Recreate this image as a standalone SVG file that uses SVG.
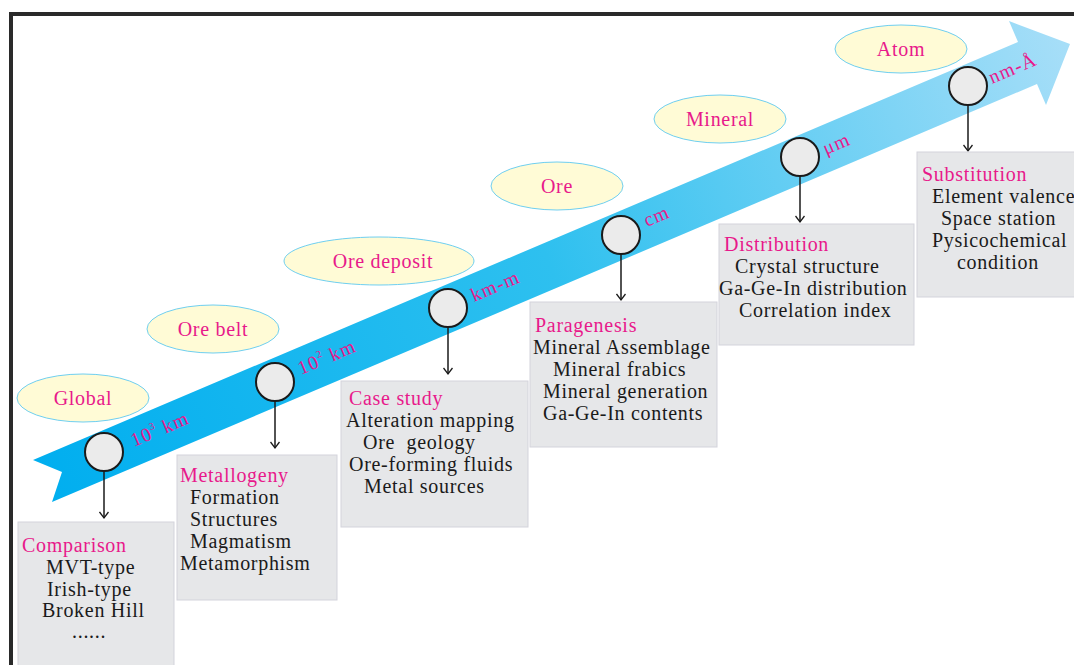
<svg xmlns="http://www.w3.org/2000/svg" width="1074" height="665" viewBox="0 0 1074 665">
<style>
  text { font-family: "Liberation Serif", "Times New Roman", serif; font-size: 20px; letter-spacing: 0.7px; }
  .pk { fill: #e8198b; }
  .bk { fill: #1a1a1a; }
  .sc { fill: #e8198b; font-size: 19.5px; letter-spacing: 1.2px; }
  .sup { font-size: 10px; }
  .ell { fill: #fffbd6; stroke: #6fcff0; stroke-width: 1; }
  .box { fill: #e6e7e9; stroke: #d3d3db; stroke-width: 1; }
  .dot { fill: #ebebeb; stroke: #1a1a1a; stroke-width: 2; }
  .stem { stroke: #1a1a1a; stroke-width: 1.5; fill: none; marker-end: url(#ah); }
  .lbl { text-anchor: middle; }
</style>
<defs>
  <linearGradient id="band" x1="33" y1="480" x2="1070" y2="60" gradientUnits="userSpaceOnUse">
    <stop offset="0" stop-color="#00aeef"/>
    <stop offset="0.5" stop-color="#2ec0ef"/>
    <stop offset="1" stop-color="#a6def8"/>
  </linearGradient>
  <marker id="ah" markerWidth="10" markerHeight="10" refX="8" refY="5" orient="auto" markerUnits="userSpaceOnUse" viewBox="0 0 10 10">
    <polyline points="2,0.5 8,5 2,9.5" fill="none" stroke="#1a1a1a" stroke-width="1.3"/>
  </marker>
</defs>
<rect x="0" y="0" width="1074" height="665" fill="#ffffff"/>
<!-- frame -->
<path d="M11,665 V14 H1074" fill="none" stroke="#2a2a2a" stroke-width="4"/>

<!-- band arrow -->
<g id="scale-arrow">
  <polygon points="33,460 1018,42 1009,21 1070,44 1046,105 1037,84 52,502 62,472" fill="url(#band)"/>
</g>

<!-- level ellipses -->
<g id="level-global"><ellipse class="ell" cx="83" cy="398" rx="66" ry="24"/><text class="pk lbl" x="83" y="405">Global</text></g>
<g id="level-orebelt"><ellipse class="ell" cx="213" cy="329" rx="66" ry="24"/><text class="pk lbl" x="213" y="336">Ore belt</text></g>
<g id="level-oredeposit"><ellipse class="ell" cx="379" cy="261" rx="95" ry="24"/><text class="pk lbl" x="383" y="268">Ore deposit</text></g>
<g id="level-ore"><ellipse class="ell" cx="557" cy="186" rx="66" ry="24"/><text class="pk lbl" x="557" y="193">Ore</text></g>
<g id="level-mineral"><ellipse class="ell" cx="720" cy="119" rx="66" ry="24"/><text class="pk lbl" x="720" y="126">Mineral</text></g>
<g id="level-atom"><ellipse class="ell" cx="901" cy="49" rx="66" ry="24"/><text class="pk lbl" x="901" y="56">Atom</text></g>

<!-- scale labels -->
<g id="scale-labels">
  <text class="sc" transform="rotate(-23 134 447)" x="134" y="447">10<tspan class="sup" dy="-9">3</tspan><tspan dy="9"> km</tspan></text>
  <text class="sc" transform="rotate(-23 301 375)" x="301" y="375">10<tspan class="sup" dy="-9">2</tspan><tspan dy="9"> km</tspan></text>
  <text class="sc" transform="rotate(-23 474 302)" x="474" y="302">km-m</text>
  <text class="sc" transform="rotate(-23 647 227)" x="647" y="227">cm</text>
  <text class="sc" transform="rotate(-23 826 155)" x="826" y="155">μm</text>
  <text class="sc" transform="rotate(-23 992 84)" x="992" y="84">nm-Å</text>
</g>

<!-- connectors -->
<g id="connectors">
  <path class="stem" d="M104,471 V518"/>
  <path class="stem" d="M275,401 V448"/>
  <path class="stem" d="M448,327 V374"/>
  <path class="stem" d="M621,254 V300"/>
  <path class="stem" d="M800,176 V222"/>
  <path class="stem" d="M968,105 V151"/>
</g>

<!-- scale points -->
<g id="point-1"><circle class="dot" cx="104" cy="452" r="19"/></g>
<g id="point-2"><circle class="dot" cx="275" cy="382" r="19"/></g>
<g id="point-3"><circle class="dot" cx="448" cy="308" r="19"/></g>
<g id="point-4"><circle class="dot" cx="621" cy="235" r="19"/></g>
<g id="point-5"><circle class="dot" cx="800" cy="157" r="19"/></g>
<g id="point-6"><circle class="dot" cx="968" cy="86" r="19"/></g>

<!-- boxes -->
<g id="box-comparison">
  <rect class="box" x="18" y="522" width="156" height="150"/>
  <text class="pk" x="22" y="552">Comparison</text>
  <text class="bk" x="46" y="574">MVT-type</text>
  <text class="bk" x="47" y="596">Irish-type</text>
  <text class="bk" x="42" y="617">Broken Hill</text>
  <text class="bk" x="72" y="638">......</text>
</g>
<g id="box-metallogeny">
  <rect class="box" x="177" y="455" width="160" height="145"/>
  <text class="pk" x="180" y="482">Metallogeny</text>
  <text class="bk" x="190" y="504">Formation</text>
  <text class="bk" x="190" y="526">Structures</text>
  <text class="bk" x="190" y="548">Magmatism</text>
  <text class="bk" x="180" y="570">Metamorphism</text>
</g>
<g id="box-casestudy">
  <rect class="box" x="341" y="381" width="187" height="146"/>
  <text class="pk" x="349" y="405">Case study</text>
  <text class="bk" x="346" y="427">Alteration mapping</text>
  <text class="bk" x="363" y="449" xml:space="preserve">Ore  geology</text>
  <text class="bk" x="349" y="471">Ore-forming fluids</text>
  <text class="bk" x="364" y="493">Metal sources</text>
</g>
<g id="box-paragenesis">
  <rect class="box" x="530" y="302" width="187" height="145"/>
  <text class="pk" x="535" y="332">Paragenesis</text>
  <text class="bk" x="533" y="354">Mineral Assemblage</text>
  <text class="bk" x="553" y="376">Mineral frabics</text>
  <text class="bk" x="543" y="398">Mineral generation</text>
  <text class="bk" x="543" y="420">Ga-Ge-In contents</text>
</g>
<g id="box-distribution">
  <rect class="box" x="719" y="224" width="195" height="121"/>
  <text class="pk" x="724" y="251">Distribution</text>
  <text class="bk" x="735" y="273">Crystal structure</text>
  <text class="bk" x="719" y="295">Ga-Ge-In distribution</text>
  <text class="bk" x="739" y="317">Correlation index</text>
</g>
<g id="box-substitution">
  <rect class="box" x="917" y="152" width="162" height="145"/>
  <text class="pk" x="922" y="181">Substitution</text>
  <text class="bk" x="932" y="203">Element valence</text>
  <text class="bk" x="941" y="225">Space station</text>
  <text class="bk" x="932" y="247">Pysicochemical</text>
  <text class="bk" x="957" y="269">condition</text>
</g>
</svg>
